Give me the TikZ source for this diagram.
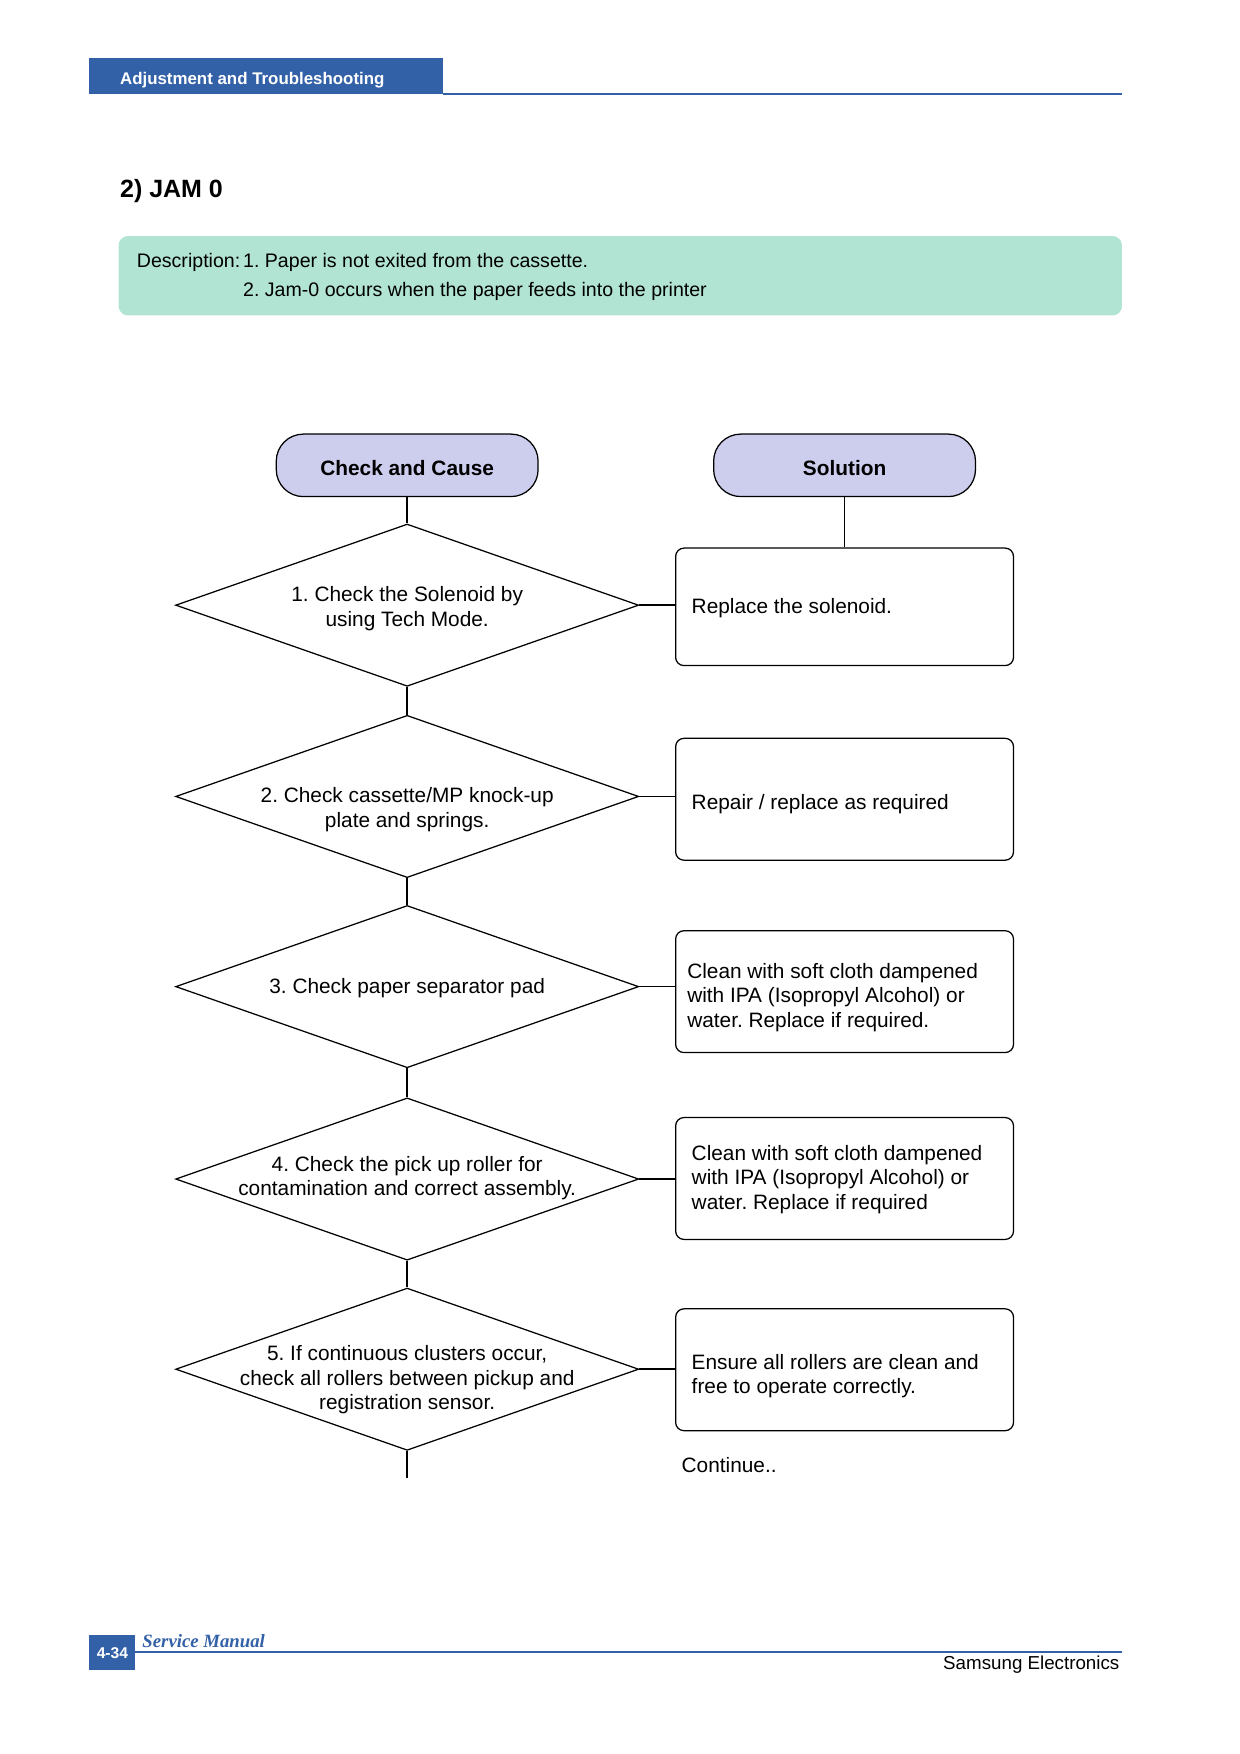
\documentclass[tikz,border=0pt]{standalone}
\usepackage{fontspec}
\setmainfont{Liberation Sans}
\newfontfamily\serifit{Liberation Serif}
\usetikzlibrary{shapes.geometric}
\definecolor{hdrblue}{HTML}{3361A8}
\definecolor{mint}{HTML}{B1E4D3}
\definecolor{lav}{HTML}{CDCDEE}
\frenchspacing
\begin{document}
\begin{tikzpicture}[x=0.537pt,y=-0.537pt,
  body/.style={font=\frenchspacing\fontsize{10}{11.8}\selectfont, inner sep=0pt},
  dbody/.style={font=\frenchspacing\fontsize{9.4}{11}\selectfont, inner sep=0pt},
  term/.style={draw=black, line width=0.6pt, fill=lav, rounded corners=13pt,
    minimum width=125.7pt, minimum height=30pt, inner sep=0pt},
  termtext/.style={inner sep=0pt, font=\bfseries\fontsize{10}{12}\selectfont},
  dia/.style={draw, diamond, line width=0.6pt, minimum width=222.3pt,
    minimum height=77.9pt, inner sep=0pt},
  dtext/.style={body, align=center},
  sol/.style={draw, line width=0.6pt, rounded corners=4pt, minimum width=162.2pt,
    minimum height=58.5pt, inner sep=0pt},
  stext/.style={body, align=left, anchor=west},
  conn/.style={line width=0.7pt}]
\useasboundingbox (0,0) rectangle (1108,1568);
% header
\fill[hdrblue] (80,52) rectangle (396,84);
\node[anchor=west, inner sep=0pt, text=white, font=\bfseries\fontsize{8.1}{10}\selectfont] (hdr) at (107,72) {Adjustment and Troubleshooting};
\draw[hdrblue, line width=0.6pt] (396,84) -- (1003,84);
\node[anchor=base west, inner sep=0pt, font=\bfseries\fontsize{12}{14}\selectfont] (title) at (107,177) {2) JAM 0};
% description
\fill[mint, rounded corners=4.5pt] (106,211) rectangle (1003,282);
\node[dbody, anchor=base west] (desc) at (122,239) {Description:};
\node[dbody, anchor=base west] (desc1) at (217,239) {1. Paper is not exited from the cassette.};
\node[dbody, anchor=base west] (desc2) at (217,265) {2. Jam-0 occurs when the paper feeds into the printer};
% terminals
\node[term] (cc) at (364,416) {};
\node[term] (so) at (755,416) {};
\node[termtext] (cct) at (364,418) {Check and Cause};
\node[termtext] (sot) at (755,418) {Solution};
% diamonds
\node[dia] (d1) at (364,541) {};
\node[dia] (d2) at (364,712) {};
\node[dia] (d3) at (364,882) {};
\node[dia] (d4) at (364,1054) {};
\node[dia] (d5) at (364,1224) {};
\node[dtext] (t1) at (364,544) {1. Check the Solenoid by\\using Tech Mode.};
\node[dtext] (t2) at (364,724) {2. Check cassette/MP knock-up\\plate and springs.};
\node[dtext] (t3) at (364,883) {3. Check paper separator pad};
\node[dtext] (t4) at (364,1053) {4. Check the pick up roller for\\contamination and correct assembly.};
\node[dtext] (t5) at (364,1233.5) {5. If continuous clusters occur,\\check all rollers between pickup and\\registration sensor.};
% solution boxes
\node[sol, minimum height=56.4pt] (b1) at (755,542.5) {};
\node[sol] (b2) at (755,714.5) {};
\node[sol] (b3) at (755,886.5) {};
\node[sol] (b4) at (755,1053.5) {};
\node[sol] (b5) at (755,1224.5) {};
\node[stext] (s1) at (618,543.5) {Replace the solenoid.};
\node[stext] (s2) at (618,718.5) {Repair / replace as required};
\node[stext] (s3) at (614,891.5) {Clean with soft cloth dampened\\with IPA (Isopropyl Alcohol) or\\water. Replace if required.};
\node[stext] (s4) at (618,1054.5) {Clean with soft cloth dampened\\with IPA (Isopropyl Alcohol) or\\water. Replace if required};
\node[stext] (s5) at (618,1230) {Ensure all rollers are clean and\\free to operate correctly.};
\node[body, anchor=base west] (cont) at (609,1316) {Continue..};
% connectors
\draw[conn] (cc.south) -- (d1.north);
\draw[conn] (so.south) -- (b1.north);
\draw[conn] (d1.south) -- (d2.north);
\draw[conn] (d2.south) -- (d3.north);
\draw[conn] (d3.south) -- (d4.north);
\draw[conn] (d4.south) -- (d5.north);
\coordinate (dend) at (364,1321);
\draw[conn] (d5.south) -- (dend);
\draw[conn] (d1.east) -- (d1.east -| b1.west);
\draw[conn] (d2.east) -- (d2.east -| b2.west);
\draw[conn] (d3.east) -- (d3.east -| b3.west);
\draw[conn] (d4.east) -- (d4.east -| b4.west);
\draw[conn] (d5.east) -- (d5.east -| b5.west);
% footer
\fill[hdrblue] (80,1462) rectangle (121,1493);
\node[inner sep=0pt, text=white, font=\bfseries\fontsize{7.5}{9}\selectfont] (pg) at (100.5,1477.5) {4-34};
\draw[hdrblue, line width=0.7pt] (121,1477) -- (1003,1477);
\node[anchor=base west, inner sep=0pt, text=hdrblue, font=\serifit\bfseries\itshape\fontsize{9}{11}\selectfont] (sm) at (127,1473) {Service Manual};
\node[anchor=base east, inner sep=0pt, font=\fontsize{9}{11}\selectfont] (se) at (1001,1492) {Samsung Electronics};
\end{tikzpicture}
\end{document}
